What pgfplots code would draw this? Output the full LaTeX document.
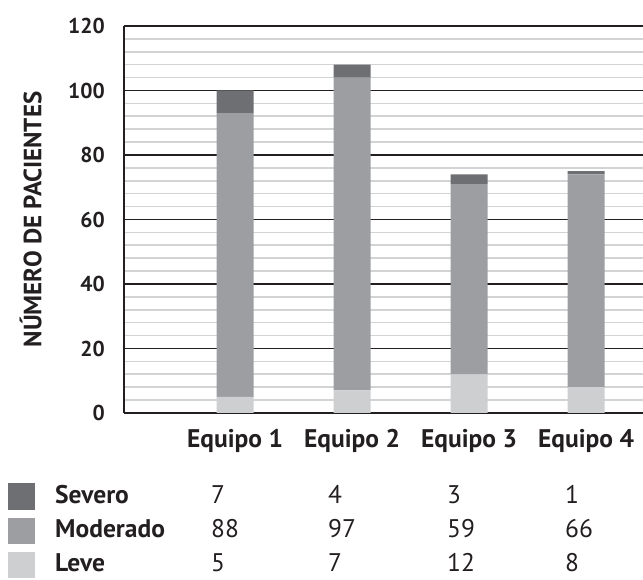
\documentclass[border=0pt]{standalone}
\usepackage{pgfplots}
\pgfplotsset{compat=1.18}
\usepackage{fontspec}
\setmainfont{PT Sans}
\definecolor{sev}{RGB}{110,111,114}
\definecolor{mod}{RGB}{157,158,162}
\definecolor{lev}{RGB}{206,207,209}
\definecolor{txt}{RGB}{35,31,32}
\definecolor{mgrid}{RGB}{210,211,213}
\begin{document}
\begin{tikzpicture}
\useasboundingbox (0pt,0pt) rectangle (643pt,580pt);
\begin{axis}[
  at={(124pt,167pt)}, anchor=south west,
  scale only axis, width=519pt, height=387pt,
  ybar stacked, bar width=37pt,
  xmin=-0.949, xmax=3.487, ymin=0, ymax=120,
  xtick={0,1,2,3}, xticklabels={Equipo 1,Equipo 2,Equipo 3,Equipo 4},
  ytick={0,20,...,120}, minor y tick num=4,
  ymajorgrids, yminorgrids,
  major grid style={txt, line width=1.3pt},
  minor grid style={mgrid, line width=1.6pt},
  axis x line*=bottom, axis y line*=left,
  axis line style={txt, line width=1.3pt, -},
  major tick length=0pt, minor tick length=0pt,
  /pgf/number format/assume math mode=true,
  yticklabel style={anchor=east, inner sep=0pt, xshift=-19pt, font=\fontsize{21.5}{24}\selectfont\bfseries, text=txt},
  xticklabel style={anchor=base, inner sep=0pt, yshift=-35pt, font=\fontsize{25.5}{28}\selectfont\bfseries, text=txt},
  ylabel={NÚMERO DE PACIENTES},
  ylabel style={at={(axis description cs:-0.180,0.5)}, anchor=center, font=\fontsize{25}{28}\selectfont\bfseries, text=txt},
  clip=false,
]
\addplot[fill=lev, draw=none] coordinates {(0,5) (1,7) (2,12) (3,8)};
\addplot[fill=mod, draw=none] coordinates {(0,88) (1,97) (2,59) (3,66)};
\addplot[fill=sev, draw=none] coordinates {(0,7) (1,4) (2,3) (3,1)};
\end{axis}
% data table below the chart
\fill[sev] (8pt,70pt) rectangle (35pt,97pt);
\fill[mod] (8pt,36pt) rectangle (35pt,62pt);
\fill[lev] (8pt,2pt) rectangle (35pt,28pt);
\begin{scope}[every node/.style={anchor=base west, inner sep=0pt, text=txt, font=\fontsize{25.5}{28}\selectfont}]
\node[font=\fontsize{25.5}{28}\selectfont\bfseries] at (55pt,76pt) {Severo};
\node[font=\fontsize{25.5}{28}\selectfont\bfseries] at (55pt,42pt) {Moderado};
\node[font=\fontsize{25.5}{28}\selectfont\bfseries] at (55pt,8pt) {Leve};
\node at (211pt,76pt) {7};
\node at (328pt,76pt) {4};
\node at (447pt,76pt) {3};
\node at (565pt,76pt) {1};
\node at (211pt,42pt) {88};
\node at (328pt,42pt) {97};
\node at (447pt,42pt) {59};
\node at (565pt,42pt) {66};
\node at (211pt,8pt) {5};
\node at (328pt,8pt) {7};
\node at (447pt,8pt) {12};
\node at (565pt,8pt) {8};
\end{scope}
\end{tikzpicture}
\end{document}
